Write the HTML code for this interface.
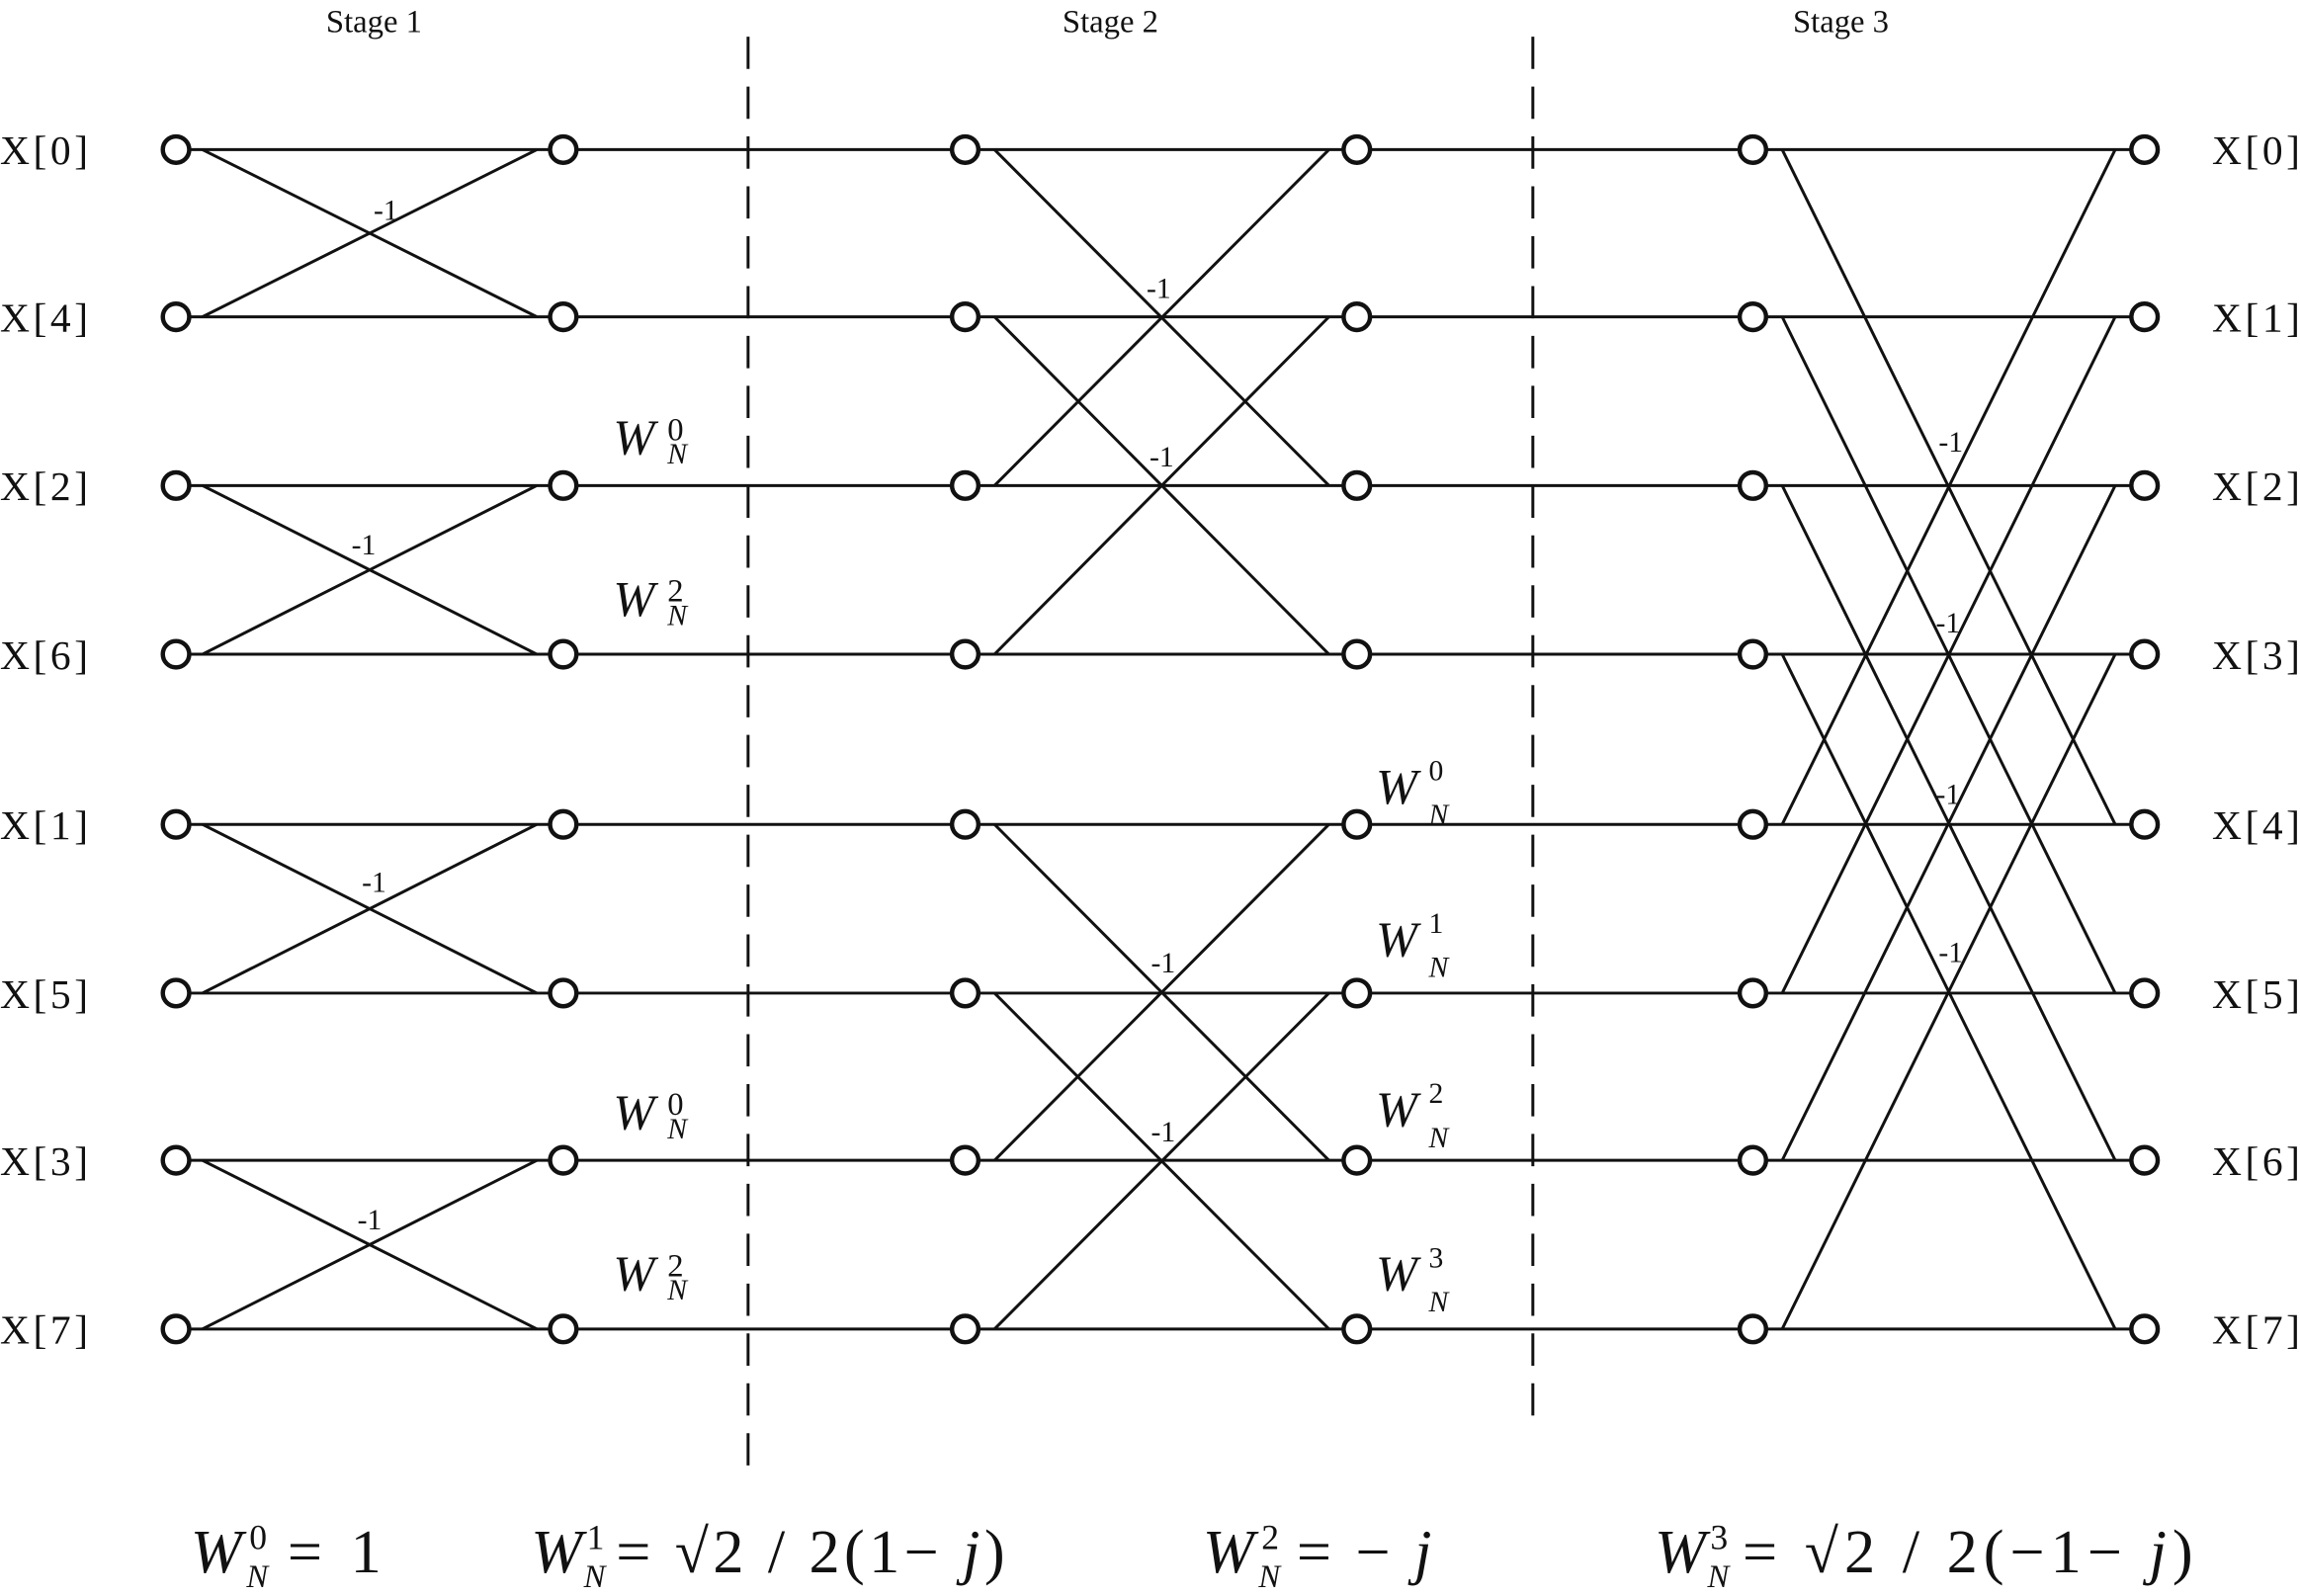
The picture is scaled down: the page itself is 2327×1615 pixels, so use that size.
<!DOCTYPE html>
<html><head><style>
html,body{margin:0;padding:0;background:#fff;}
svg{display:block;}
text{font-family:"Liberation Serif",serif;fill:#111;}
.it{font-style:italic;}
</style></head><body>
<svg width="2327" height="1615" viewBox="0 0 1568 1088" preserveAspectRatio="none" xmlns="http://www.w3.org/2000/svg">
<defs>
<g id="col">
<circle cx="0" cy="102" r="9"/><circle cx="0" cy="216" r="9"/><circle cx="0" cy="331" r="9"/><circle cx="0" cy="446" r="9"/>
<circle cx="0" cy="562" r="9"/><circle cx="0" cy="677" r="9"/><circle cx="0" cy="791" r="9"/><circle cx="0" cy="906" r="9"/>
</g>
</defs>
<g stroke="#111" stroke-width="2" fill="none">
<line x1="130" y1="102" x2="1452" y2="102"/>
<line x1="130" y1="216" x2="1452" y2="216"/>
<line x1="130" y1="331" x2="1452" y2="331"/>
<line x1="130" y1="446" x2="1452" y2="446"/>
<line x1="130" y1="562" x2="1452" y2="562"/>
<line x1="130" y1="677" x2="1452" y2="677"/>
<line x1="130" y1="791" x2="1452" y2="791"/>
<line x1="130" y1="906" x2="1452" y2="906"/>
<line x1="138" y1="102" x2="366" y2="216"/><line x1="138" y1="216" x2="366" y2="102"/>
<line x1="138" y1="331" x2="366" y2="446"/><line x1="138" y1="446" x2="366" y2="331"/>
<line x1="138" y1="562" x2="366" y2="677"/><line x1="138" y1="677" x2="366" y2="562"/>
<line x1="138" y1="791" x2="366" y2="906"/><line x1="138" y1="906" x2="366" y2="791"/>
<line x1="678" y1="102" x2="906" y2="331"/><line x1="678" y1="331" x2="906" y2="102"/>
<line x1="678" y1="216" x2="906" y2="446"/><line x1="678" y1="446" x2="906" y2="216"/>
<line x1="678" y1="562" x2="906" y2="791"/><line x1="678" y1="791" x2="906" y2="562"/>
<line x1="678" y1="677" x2="906" y2="906"/><line x1="678" y1="906" x2="906" y2="677"/>
<line x1="1215" y1="102" x2="1442" y2="562"/><line x1="1215" y1="562" x2="1442" y2="102"/>
<line x1="1215" y1="216" x2="1442" y2="677"/><line x1="1215" y1="677" x2="1442" y2="216"/>
<line x1="1215" y1="331" x2="1442" y2="791"/><line x1="1215" y1="791" x2="1442" y2="331"/>
<line x1="1215" y1="446" x2="1442" y2="906"/><line x1="1215" y1="906" x2="1442" y2="446"/>
<line x1="510" y1="25" x2="510" y2="1000" stroke-dasharray="22,12"/>
<line x1="1045" y1="25" x2="1045" y2="975" stroke-dasharray="22,12"/>
</g>
<g stroke="#111" stroke-width="3" fill="#fff">
<use href="#col" x="120"/><use href="#col" x="384"/><use href="#col" x="658"/>
<use href="#col" x="925"/><use href="#col" x="1195"/><use href="#col" x="1462"/>
</g>
<g font-size="22" text-anchor="middle">
<text x="255" y="22">Stage 1</text><text x="757" y="22">Stage 2</text><text x="1255" y="22">Stage 3</text>
</g>
<g font-size="28">
<text x="0" y="112" textLength="60">X[0]</text><text x="0" y="226" textLength="60">X[4]</text><text x="0" y="341" textLength="60">X[2]</text><text x="0" y="456" textLength="60">X[6]</text>
<text x="0" y="572" textLength="60">X[1]</text><text x="0" y="687" textLength="60">X[5]</text><text x="0" y="801" textLength="60">X[3]</text><text x="0" y="916" textLength="60">X[7]</text>
<text x="1508" y="112" textLength="60">X[0]</text><text x="1508" y="226" textLength="60">X[1]</text><text x="1508" y="341" textLength="60">X[2]</text><text x="1508" y="456" textLength="60">X[3]</text>
<text x="1508" y="572" textLength="60">X[4]</text><text x="1508" y="687" textLength="60">X[5]</text><text x="1508" y="801" textLength="60">X[6]</text><text x="1508" y="916" textLength="60">X[7]</text>
</g>
<g font-size="20" text-anchor="middle">
<text x="263" y="150">-1</text><text x="248" y="378">-1</text><text x="255" y="608">-1</text><text x="252" y="838">-1</text>
<text x="790" y="203">-1</text><text x="792" y="318">-1</text><text x="793" y="663">-1</text><text x="793" y="778">-1</text>
<text x="1330" y="308">-1</text><text x="1328" y="431">-1</text><text x="1328" y="548">-1</text><text x="1330" y="656">-1</text>
</g>
<g font-size="34">
<text x="418" y="310" class="it">W</text><text x="455" y="300" font-size="22">0</text><text x="455" y="316" font-size="20" class="it">N</text>
<text x="418" y="420" class="it">W</text><text x="455" y="410" font-size="22">2</text><text x="455" y="426" font-size="20" class="it">N</text>
<text x="418" y="770" class="it">W</text><text x="455" y="760" font-size="22">0</text><text x="455" y="776" font-size="20" class="it">N</text>
<text x="418" y="880" class="it">W</text><text x="455" y="870" font-size="22">2</text><text x="455" y="886" font-size="20" class="it">N</text>
<text x="938" y="548" class="it">W</text><text x="974" y="532" font-size="20">0</text><text x="974" y="562" font-size="20" class="it">N</text>
<text x="938" y="652" class="it">W</text><text x="974" y="636" font-size="20">1</text><text x="974" y="666" font-size="20" class="it">N</text>
<text x="938" y="768" class="it">W</text><text x="974" y="752" font-size="20">2</text><text x="974" y="782" font-size="20" class="it">N</text>
<text x="938" y="880" class="it">W</text><text x="974" y="864" font-size="20">3</text><text x="974" y="894" font-size="20" class="it">N</text>
</g>
<g font-size="42">
<text x="130" y="1072" class="it">W</text><text x="170" y="1056" font-size="24">0</text><text x="168" y="1082" font-size="22" class="it">N</text><text x="196" y="1072" textLength="64" lengthAdjust="spacing">= 1</text>
<text x="362" y="1072" class="it">W</text><text x="400" y="1056" font-size="24">1</text><text x="398" y="1082" font-size="22" class="it">N</text><text x="420" y="1072" textLength="265" lengthAdjust="spacing">= √2 / 2(1− <tspan class="it">j</tspan>)</text>
<text x="820" y="1072" class="it">W</text><text x="860" y="1056" font-size="24">2</text><text x="858" y="1082" font-size="22" class="it">N</text><text x="884" y="1072" textLength="92" lengthAdjust="spacing">= − <tspan class="it">j</tspan></text>
<text x="1128" y="1072" class="it">W</text><text x="1166" y="1056" font-size="24">3</text><text x="1164" y="1082" font-size="22" class="it">N</text><text x="1188" y="1072" textLength="307" lengthAdjust="spacing">= √2 / 2(−1− <tspan class="it">j</tspan>)</text>
</g>
</svg>
</body></html>
